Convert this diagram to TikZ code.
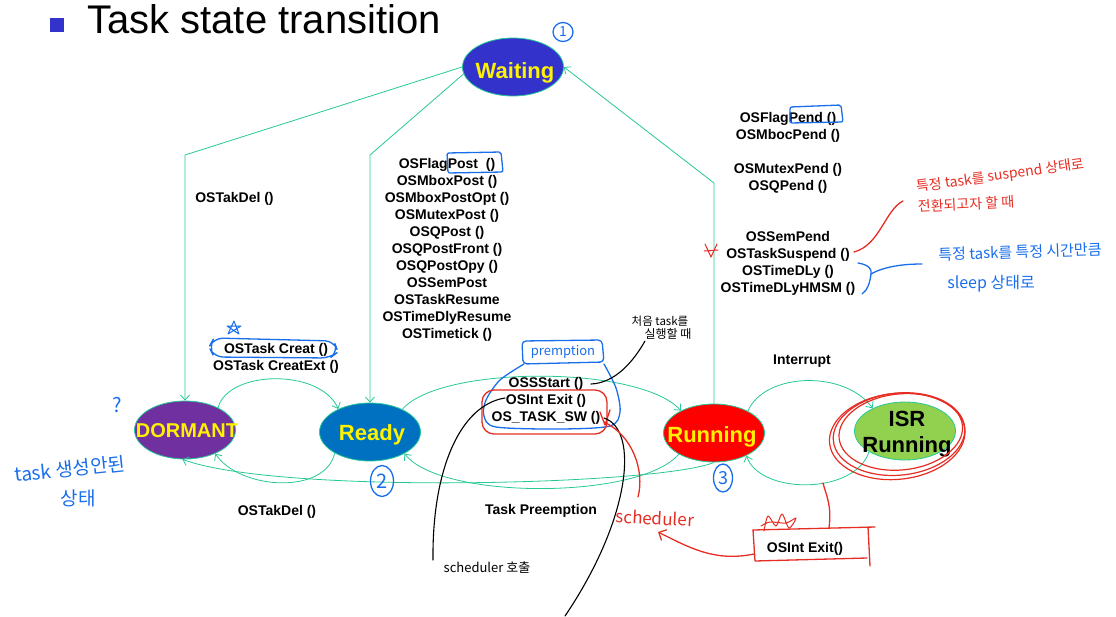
\documentclass[tikz,border=0pt]{standalone}
\usepackage{fontspec}
\setmainfont{Liberation Sans}
\newfontfamily\kr{Noto Sans CJK KR}
\usetikzlibrary{shapes.geometric,arrows.meta}
\definecolor{teal2}{RGB}{38,200,150}
\definecolor{tblue}{RGB}{51,51,204}
\definecolor{cwait}{RGB}{51,51,204}
\definecolor{cdorm}{RGB}{112,48,160}
\definecolor{cready}{RGB}{0,112,192}
\definecolor{cisr}{RGB}{146,208,80}
\definecolor{hblue}{RGB}{25,110,235}
\definecolor{hred}{RGB}{230,45,35}
\tikzset{
  st/.style={ellipse, draw=teal2, line width=0.8pt, minimum width=101pt, minimum height=58pt, inner sep=0pt},
  stl/.style={font=\bfseries\fontsize{22}{26}\selectfont, text=yellow, inner sep=0pt},
  lbl/.style={font=\bfseries\fontsize{14}{17}\selectfont, align=center, inner sep=0pt},
  tr/.style={draw=teal2, line width=0.8pt, -{Straight Barb[length=5pt,width=9pt]}},
  hand/.style={line width=1.3pt, line cap=round, line join=round},
  hw/.style={inner sep=0pt, align=center},
}
\begin{document}
\begin{tikzpicture}[x=1pt,y=-1pt]
\useasboundingbox (0,0) rectangle (1116,616);

% title
\node[fill=tblue, minimum size=14pt, inner sep=0pt] (bullet) at (57,25) {};
\node[anchor=base west, inner sep=0pt, font=\fontsize{40}{44}\selectfont] (title) at (87,33) {Task state transition};

% states
\node[st, fill=cwait] (waiting) at (513,67) {};
\node[st, fill=cdorm] (dormant) at (185,430) {};
\node[st, fill=cready] (ready) at (370,432) {};
\node[st, fill=red] (running) at (714,433) {};
\node[st, fill=cisr] (isr) at (905,431) {};

\node[stl, anchor=base] (twait) at (515,78) {Waiting};
\node[stl, font=\bfseries\fontsize{20}{24}\selectfont, anchor=base] (tdorm) at (187,437) {DORMANT};
\node[stl, anchor=base] (tready) at (372,440) {Ready};
\node[stl, anchor=base] (trun) at (712,442) {Running};
\node[stl, text=black, align=center] (tisr) at (907,434.5) {ISR\\Running};

% connectors
\coordinate (b1) at (185,155);
\coordinate (b2) at (370,155);
\coordinate (b3) at (714,183);
\draw[tr] (waiting.180) -- (b1) -- (dormant.90);
\draw[tr] (waiting.188) -- (b2) -- (ready.90);
\draw[tr] (running.90) -- (b3) -- (waiting.0);
\draw[tr] (dormant.34) .. controls (228,370) and (320,368) .. (ready.144);
\draw[tr] (ready.211) .. controls (325,495) and (240,490) .. (dormant.-38);
\draw[tr] (ready.35) .. controls (440,365) and (640,365) .. (running.146);
\draw[tr] (running.211) .. controls (640,500) and (440,500) .. (ready.-32);
\draw[tr] (running.270) .. controls (660,485) and (280,495) .. (dormant.265);
\draw[tr] (running.33) .. controls (765,372) and (845,370) .. (isr.145);
\draw[tr] (isr.210) .. controls (855,495) and (760,495) .. (running.-35);

% labels
\node[lbl, anchor=base] (ldel1) at (234.5,202) {OSTakDel ()};
\node[lbl] (lpost) at (447,249.4) {OSFlagPost\ \ ()\\OSMboxPost ()\\OSMboxPostOpt ()\\OSMutexPost ()\\OSQPost ()\\OSQPostFront ()\\OSQPostOpy ()\\OSSemPost\\OSTaskResume\\OSTimeDlyResume\\OSTimetick ()};
\node[lbl] (lpend1) at (788,126.9) {OSFlagPend ()\\OSMbocPend ()};
\node[lbl] (lpend2) at (788,177.9) {OSMutexPend ()\\OSQPend ()};
\node[lbl] (lpend3) at (788,262.9) {OSSemPend\\OSTaskSuspend ()\\OSTimeDLy ()\\OSTimeDLyHMSM ()};
\node[lbl] (lcreat) at (276,358.4) {OSTask Creat ()\\OSTask CreatExt ()};
\node[lbl] (lstart) at (546,400.4) {OSSStart ()\\OSInt Exit ()\\OS\_TASK\_SW ()};
\node[lbl, anchor=base] (lint) at (802,364) {Interrupt};
\node[lbl, anchor=base] (lpre) at (541,514) {Task Preemption};
\node[lbl, anchor=base] (ldel2) at (277,515) {OSTakDel ()};
\node[lbl, anchor=base] (lisrx) at (805,552) {OSInt Exit()};

% ---- handwritten annotations ----
% blue boxes
\draw[hand, hblue, rounded corners=2pt] (447,153) -- (501,152) -- (503,172) -- (448,173) -- cycle;
\draw[hand, hblue, rounded corners=2pt] (790,107) -- (841,105) -- (843,122) -- (790,123) -- cycle;
\draw[hand, hblue, rounded corners=9pt] (214,338) -- (334,341) -- (338,352) -- (330,358) -- (214,357) -- (209,347) -- cycle;
\draw[hand, hblue, rounded corners=4pt] (522,341) -- (602,340) -- (604,362) -- (523,364) -- cycle;
\draw[hand, hblue] plot[smooth] coordinates {(524,364) (500,380) (486,400) (484,416) (496,427) (560,429) (610,426) (620,412) (616,388) (604,364)};
\node[hw, text=hblue, font=\kr\fontsize{13}{15}\selectfont] (npre) at (563,352) {premption};
% star
\draw[hand, hblue, line width=1pt] (228,334) -- (234,321) -- (239,334) -- (227,326) -- (241,326) -- cycle;
% red around OSInt Exit / OS_TASK_SW
\draw[hand, hred, rounded corners=12pt] (482,390) rectangle (607,434);
\draw[hand, hred] (600,412) -- (605,425) -- (610,410);
% black curves
\draw[hand, black, line width=1.1pt] (591,384) .. controls (615,383) and (633,362) .. (645,341);
\draw[hand, black, line width=1.1pt] (505,398) .. controls (460,405) and (432,470) .. (433,560);
\draw[hand, black, line width=1.1pt] (604,418) .. controls (640,430) and (630,520) .. (565,616);
\node[hw, font=\kr\fontsize{11.5}{13}\selectfont] (nfirst) at (660,321) {처음 task를};
\node[hw, font=\kr\fontsize{12}{13}\selectfont] (nrun) at (668,334) {실행할 때};
\node[hw, font=\kr\fontsize{13}{15}\selectfont] (nsch) at (487,568) {scheduler 호출};
% red scheduler
\draw[hand, hred] (604,422) .. controls (632,435) and (645,470) .. (638,497);
\node[hw, text=hred, rotate=-3, font=\kr\fontsize{17}{19}\selectfont] (nsch2) at (655,518) {scheduler};
\draw[hand, hred, -{Straight Barb[length=6pt,width=12pt]}] (754,554) .. controls (715,562) and (690,548) .. (658,532);
% red box
\draw[hand, hred] (753,530) -- (875,527);
\draw[hand, hred] (868,527) -- (870,566);
\draw[hand, hred] (753,530) -- (755,561) -- (867,558);
\draw[hand, hred] (829,528) .. controls (832,505) and (826,495) .. (823,483);
\draw[hand, hred, line width=1pt] plot[smooth] coordinates {(764,531) (768,516) (776,526) (782,514) (789,528) (796,518) (786,523) (770,522) (761,526)};
% ISR scribbles
\draw[hand, hred, line width=1.2pt, rotate around={6:(900,434)}] (899,434) ellipse [x radius=66, y radius=41];
\draw[hand, hred, line width=1.2pt, rotate around={6:(900,434)}] (901,432) ellipse [x radius=62, y radius=38];
\draw[hand, hred, line width=1.2pt, rotate around={6:(900,434)}] (897,436) ellipse [x radius=68, y radius=43];
% right notes
\draw[hand, hred] (854,252) .. controls (880,245) and (885,210) .. (903,201);
\draw[hand, hred, line width=1pt] (705,244) -- (711,257) -- (717,244) (704,251) -- (718,250);
\node[hw, text=hred, rotate=8, font=\kr\fontsize{14}{16}\selectfont] (nsusp) at (1000,176) {특정 task를 suspend 상태로};
\node[hw, text=hred, rotate=3, font=\kr\fontsize{14}{16}\selectfont] (nsusp2) at (966,204) {전환되고자 할 때};
\draw[hand, hblue] (858,263) .. controls (870,265) and (872,270) .. (871,274) .. controls (870,282) and (868,290) .. (862,294);
\draw[hand, hblue] (871,274) .. controls (885,266) and (905,264) .. (922,264);
\node[hw, text=hblue, rotate=2, font=\kr\fontsize{15}{17}\selectfont] (nslp) at (1020,252) {특정 task를 특정 시간만큼};
\node[hw, text=hblue, font=\kr\fontsize{16}{18}\selectfont] (nslp2) at (991,284) {sleep 상태로};
% left notes
\node[hw, text=hblue, font=\kr\fontsize{20}{22}\selectfont] (nq) at (117,405) {?};
\node[hw, text=hblue, rotate=6, font=\kr\fontsize{19}{21}\selectfont] (ndorm) at (70,469) {task 생성안된};
\node[hw, text=hblue, font=\kr\fontsize{19}{21}\selectfont] (ndorm2) at (78,498) {상태};
% circled numbers
\node[ellipse, draw=hblue, line width=1.3pt, minimum width=20pt, minimum height=19pt, inner sep=0pt, text=hblue, font=\kr\fontsize{14}{16}\selectfont] (c1) at (563,32) {1};
\node[ellipse, draw=hblue, line width=1.3pt, minimum width=23pt, minimum height=31pt, inner sep=0pt, text=hblue, font=\kr\fontsize{20}{22}\selectfont] (c2) at (382,481) {2};
\node[ellipse, draw=hblue, line width=1.3pt, minimum width=19pt, minimum height=28pt, inner sep=0pt, text=hblue, font=\kr\fontsize{18}{20}\selectfont] (c3) at (723,478) {3};
\end{tikzpicture}
\end{document}
